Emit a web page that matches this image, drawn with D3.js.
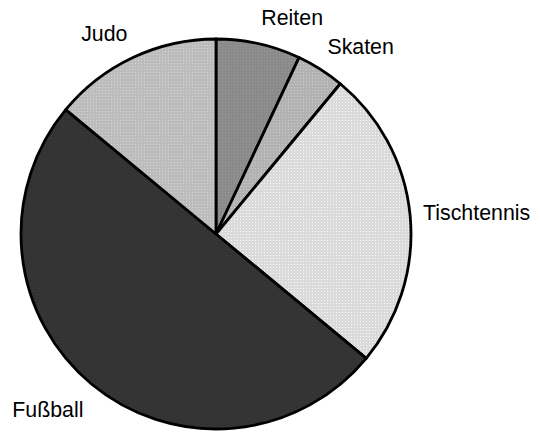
<!DOCTYPE html>
<html>
<head>
<meta charset="utf-8">
<script src="https://cdn.jsdelivr.net/npm/d3@7"></script>
<style>
  body { margin: 0; background: #fff; }
  text { font-family: "Liberation Sans", Arial, sans-serif; }
</style>
</head>
<body>
<div id="pie"></div>
<script>
var width = 540;
var height = 433;
var cx = 216, cy = 234, radius = 195;

var sports = ["Reiten", "Skaten", "Tischtennis", "Fußball", "Judo"];
var shares = [7, 4, 25, 50, 14];
var fills = ["#8a8a8a", "#b2b2b2", "#dadada", "#333333", "#bcbcbc"];

var data = sports.map(function(s, i) { return {name: s, value: shares[i]}; });

var svg = d3.select("#pie")
  .append("svg")
  .attr("width", width)
  .attr("height", height);

// dotted texture like the original raster fill
var defs = svg.append("defs");
fills.forEach(function(c, i) {
  var p = defs.append("pattern")
    .attr("id", "fill" + i)
    .attr("width", 3)
    .attr("height", 3)
    .attr("patternUnits", "userSpaceOnUse");
  p.append("rect").attr("width", 3).attr("height", 3).attr("fill", c);
  p.append("rect").attr("width", 1).attr("height", 1)
    .attr("fill", d3.color(c).brighter(0.35));
});

var pie = d3.pie().sort(null).value(function(d) { return d.value; });
var arc = d3.arc().innerRadius(0).outerRadius(radius);
var labelArc = d3.arc().innerRadius(radius + 13).outerRadius(radius + 13);

var g = svg.append("g").attr("transform", `translate(${cx},${cy})`);

var arcs = pie(data);

g.selectAll("path")
  .data(arcs)
  .enter()
  .append("path")
    .attr("d", arc)
    .attr("fill", function(d, i) { return "url(#fill" + i + ")"; })
    .attr("stroke", "#000")
    .attr("stroke-width", 2.8)
    .attr("stroke-linejoin", "round");

// labels sit just outside the rim, box edge facing the pie
g.selectAll("text")
  .data(arcs)
  .enter()
  .append("text")
    .attr("x", function(d) { return labelArc.centroid(d)[0]; })
    .attr("y", function(d) {
      var c = labelArc.centroid(d);
      var cos = Math.cos((d.startAngle + d.endAngle) / 2);
      return c[1] + 7 - (cos > 0 ? 13 : 20) * cos;
    })
    .attr("text-anchor", function(d) {
      return labelArc.centroid(d)[0] >= 0 ? "start" : "end";
    })
    .attr("font-size", "21.33px")
    .attr("fill", "#000")
    .text(function(d) { return d.data.name; });
</script>
</body>
</html>
